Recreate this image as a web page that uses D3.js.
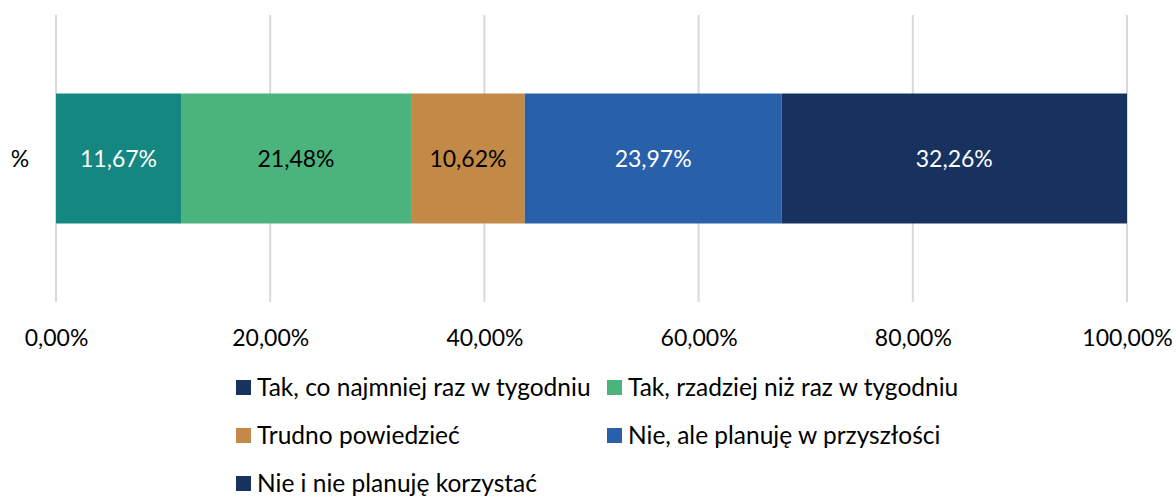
<!DOCTYPE html>
<html>
<head>
<meta charset="utf-8">
<script src="https://cdn.jsdelivr.net/npm/d3@7"></script>
<style>
  body { margin: 0; background: #fff; }
  text { font-family: Lato, "Open Sans", sans-serif; }
</style>
</head>
<body>
<div id="chart"></div>
<script>
(function() {
  // data
  var categories = ['%'],
      series = ['Tak, co najmniej raz w tygodniu', 'Tak, rzadziej niż raz w tygodniu',
                'Trudno powiedzieć', 'Nie, ale planuję w przyszłości', 'Nie i nie planuję korzystać'],
      values = [11.67, 21.48, 10.62, 23.97, 32.26],
      ticks = [0, 20, 40, 60, 80, 100];

  var barColors = ['#138780', '#4bb37c', '#c38a47', '#2860aa', '#17325f'],
      legendColors = ['#17325f', '#4bb37c', '#c38a47', '#2860aa', '#17325f'],
      labelColors = ['#fff', '#000', '#000', '#fff', '#fff'];

  var W = 1176, H = 499;
  var svg = d3.select('#chart').append('svg')
    .attr('width', W).attr('height', H);

  var x = d3.scaleLinear().domain([0, 100]).range([56, 1127]);
  var y = d3.scaleBand().domain(categories).range([15, 302]).paddingInner(0.5).paddingOuter(0.302);

  var fmt = function(v) { return v.toFixed(2).replace('.', ',') + '%'; };

  // gridlines
  svg.append('g').selectAll('line').data(ticks).join('line')
    .attr('x1', function(d) { return x(d); })
    .attr('x2', function(d) { return x(d); })
    .attr('y1', 15).attr('y2', 302)
    .attr('stroke', '#d9d9d9').attr('stroke-width', 2);

  // stacked bar
  var stack = [], acc = 0;
  values.forEach(function(v, i) {
    stack.push({ x0: acc, x1: acc + v, v: v, i: i });
    acc += v;
  });

  var bars = svg.append('g');
  bars.selectAll('rect').data(stack).join('rect')
    .attr('x', function(d) { return x(d.x0); })
    .attr('width', function(d) { return x(d.x1) - x(d.x0); })
    .attr('y', y('%')).attr('height', y.bandwidth())
    .attr('fill', function(d) { return barColors[d.i]; });

  bars.selectAll('text').data(stack).join('text')
    .attr('x', function(d) { return (x(d.x0) + x(d.x1)) / 2; })
    .attr('y', y('%') + y.bandwidth() / 2)
    .attr('dy', '0.35em')
    .attr('text-anchor', 'middle')
    .attr('font-size', 23)
    .attr('fill', function(d) { return labelColors[d.i]; })
    .text(function(d) { return fmt(d.v); });

  // category label
  svg.append('text')
    .attr('x', 20).attr('y', y('%') + y.bandwidth() / 2).attr('dy', '0.35em')
    .attr('text-anchor', 'middle').attr('font-size', 23).attr('fill', '#000')
    .text(categories[0]);

  // x axis
  var xAxis = svg.append('g')
    .attr('transform', 'translate(0,' + 302 + ')')
    .call(d3.axisBottom(x).tickValues(ticks).tickSize(0).tickPadding(28)
      .tickFormat(function(d) { return fmt(d); }));
  xAxis.select('.domain').remove();
  xAxis.selectAll('text').attr('font-size', 23).attr('fill', '#000')
    .style('font-family', 'Lato, "Open Sans", sans-serif');

  // legend
  var legendPos = [[236, 387], [607, 387], [236, 435], [607, 435], [236, 483]];
  var lg = svg.append('g').selectAll('g').data(series).join('g')
    .attr('transform', function(d, i) { return 'translate(' + legendPos[i][0] + ',' + legendPos[i][1] + ')'; });
  lg.append('rect')
    .attr('x', 0).attr('y', -7).attr('width', 15).attr('height', 15)
    .attr('fill', function(d, i) { return legendColors[i]; });
  lg.append('text')
    .attr('x', 21).attr('dy', '0.35em')
    .attr('font-size', 24.5).attr('fill', '#000')
    .text(function(d) { return d; });
})();
</script>
</body>
</html>
